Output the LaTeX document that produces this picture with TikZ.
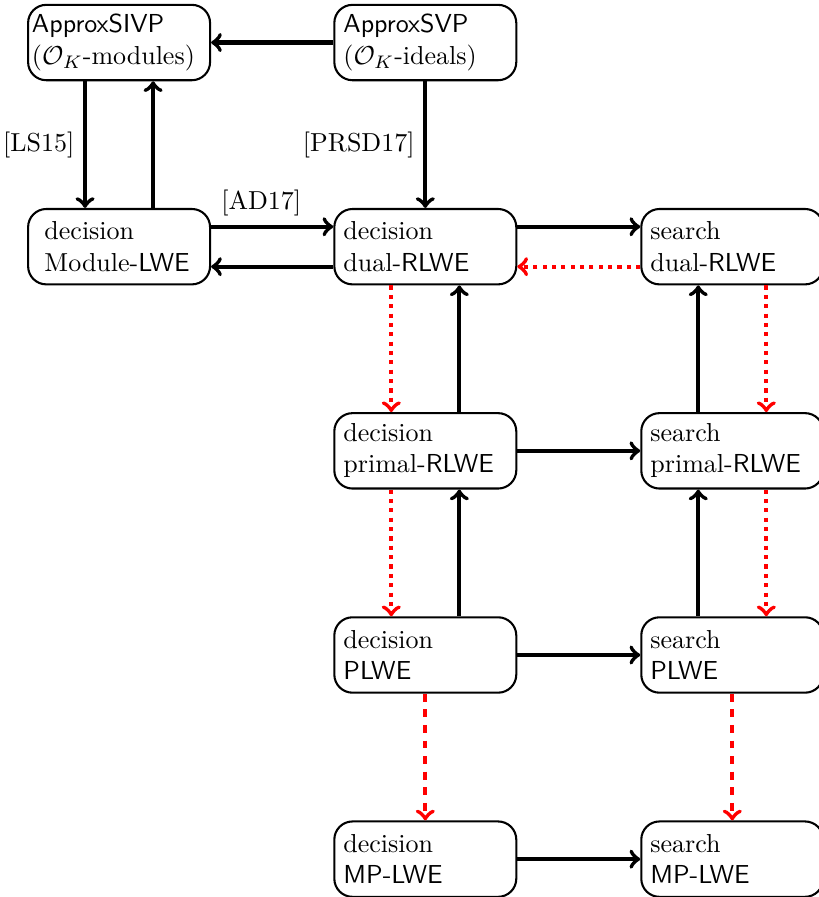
\documentclass[tikz,border=0pt]{standalone}
\usepackage{amsfonts}
\usepackage{amsmath}
\usepackage{tikz}

\begin{document}
\begin{tikzpicture}[prob/.style = {shape=rectangle, rounded corners=7pt,
                                draw, thick, align=left,
                                minimum width=70pt, minimum height=29pt,
                                text width=63pt, inner xsep=3.5pt},
            redu/.style = {->, ultra thick},
            heur/.style = {->, ultra thick, red, dotted},
            heurdash/.style = {->, ultra thick, red, dashed}]
            \useasboundingbox (0,0) rectangle (11.072,-12.127);
            % problems
            \node[prob, text width=67pt, inner xsep=1.5pt] (sivp) at (1.61,-0.575)
                {\textsf{ApproxSIVP}\\($\mathcal{O}_K$-modules)};
            \node[prob] (svp) at (5.75,-0.575)
                {\textsf{ApproxSVP}\\($\mathcal{O}_K$-ideals)};
            \node[prob, text width=57.4pt, inner xsep=6.3pt] (mlwe) at (1.61,-3.335)
                {decision\\Module-\textsf{LWE}};
            \node[prob] (ddual) at (5.75,-3.335) {decision\\dual-\textsf{RLWE}};
            \node[prob] (sdual) at (9.9,-3.335) {search\\dual-\textsf{RLWE}};
            \node[prob] (dprimal) at (5.75,-6.095) {decision\\primal-\textsf{RLWE}};
            \node[prob] (sprimal) at (9.9,-6.095) {search\\primal-\textsf{RLWE}};
            \node[prob] (dplwe) at (5.75,-8.855) {decision\\\textsf{PLWE}};
            \node[prob] (splwe) at (9.9,-8.855) {search\\\textsf{PLWE}};
            \node[prob] (dmplwe) at (5.75,-11.615) {decision\\\textsf{MP-LWE}};
            \node[prob] (smplwe) at (9.9,-11.615) {search\\\textsf{MP-LWE}};
            % reductions
            \draw[redu] (svp) -- (sivp);
            \draw[redu] ([xshift=-0.46cm]sivp.south) -- node[left] {[LS15]} ([xshift=-0.46cm]mlwe.north);
            \draw[redu] ([xshift=0.46cm]mlwe.north) -- ([xshift=0.46cm]sivp.south);
            \draw[redu] (svp) -- node[left] {[PRSD17]} (ddual);
            \draw[redu] ([yshift=0.27cm]mlwe.east) -- node[above, pos=0.41] {[AD17]} ([yshift=0.27cm]ddual.west);
            \draw[redu] ([yshift=-0.27cm]ddual.west) -- ([yshift=-0.27cm]mlwe.east);
            \draw[redu] ([yshift=0.27cm]ddual.east) -- ([yshift=0.27cm]sdual.west);
            \draw[heur] ([yshift=-0.27cm]sdual.west) -- ([yshift=-0.27cm]ddual.east);
            \draw[heur] ([xshift=-0.46cm]ddual.south) -- ([xshift=-0.46cm]dprimal.north);
            \draw[redu] ([xshift=0.46cm]dprimal.north) -- ([xshift=0.46cm]ddual.south);
            \draw[heur] ([xshift=0.46cm]sdual.south) -- ([xshift=0.46cm]sprimal.north);
            \draw[redu] ([xshift=-0.46cm]sprimal.north) -- ([xshift=-0.46cm]sdual.south);
            \draw[redu] (dprimal) -- (sprimal);
            \draw[heur] ([xshift=-0.46cm]dprimal.south) -- ([xshift=-0.46cm]dplwe.north);
            \draw[redu] ([xshift=0.46cm]dplwe.north) -- ([xshift=0.46cm]dprimal.south);
            \draw[heur] ([xshift=0.46cm]sprimal.south) -- ([xshift=0.46cm]splwe.north);
            \draw[redu] ([xshift=-0.46cm]splwe.north) -- ([xshift=-0.46cm]sprimal.south);
            \draw[redu] (dplwe) -- (splwe);
            \draw[heurdash] (dplwe) -- (dmplwe);
            \draw[heurdash] (splwe) -- (smplwe);
            \draw[redu] (dmplwe) -- (smplwe);
        \end{tikzpicture}
\end{document}
